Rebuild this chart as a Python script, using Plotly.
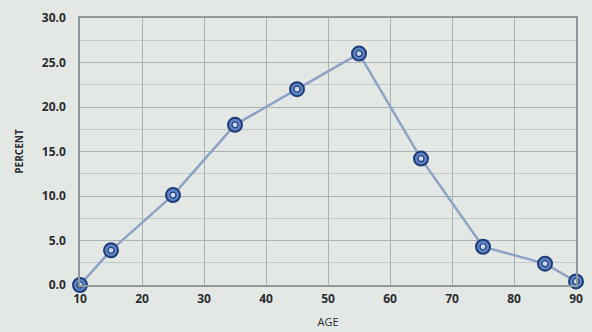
import plotly.graph_objects as go

# Age distribution (percent of cases by age)
ages = [10, 15, 25, 35, 45, 55, 65, 75, 85, 90]
percent = [0.0, 3.9, 10.1, 18.0, 22.0, 26.0, 14.2, 4.3, 2.4, 0.4]

x_ticks = [10, 20, 30, 40, 50, 60, 70, 80, 90]
y_ticks = [0, 5, 10, 15, 20, 25, 30]
y_tick_text = [f"{v:.1f}" for v in y_ticks]

bg = "#e4e8e5"
grid = "#a9b1b4"
line_col = "#8ea3c4"
ring_dark = "#1f3c78"
ring_fill = "#5f86c4"
center_fill = "#c9d8ee"

fig = go.Figure()

fig.add_trace(go.Scatter(
    x=ages, y=percent, mode="lines",
    line=dict(color=line_col, width=2.5),
    hoverinfo="skip", showlegend=False,
))
fig.add_trace(go.Scatter(
    x=ages, y=percent, mode="markers",
    marker=dict(symbol="circle", size=14, color=ring_fill,
                line=dict(color=ring_dark, width=2)),
    showlegend=False, cliponaxis=False,
))
fig.add_trace(go.Scatter(
    x=ages, y=percent, mode="markers",
    marker=dict(symbol="circle", size=6, color=center_fill,
                line=dict(color=ring_dark, width=1.2)),
    hoverinfo="skip", showlegend=False, cliponaxis=False,
))

tick_font = dict(family="Open Sans, Arial, sans-serif", size=12, color="#2a2c30")

fig.update_layout(
    width=592, height=332,
    margin=dict(l=80, r=16, t=18, b=47),
    paper_bgcolor=bg, plot_bgcolor=bg,
    font=tick_font,
    xaxis=dict(
        range=[10, 90], tickvals=x_ticks, ticktext=[str(v) for v in x_ticks],
        showgrid=True, gridcolor=grid, gridwidth=1,
        showline=True, linecolor="#8f989c", linewidth=1.5, mirror=True,
        zeroline=False, ticks="", ticklabelstandoff=2, automargin=False,
        title=dict(text="AGE", font=dict(size=11, color="#2a2c30"), standoff=12),
        tickfont=dict(size=12, weight="bold"),
    ),
    yaxis=dict(
        range=[0, 30], tickvals=y_ticks, ticktext=y_tick_text,
        showgrid=True, gridcolor=grid, gridwidth=1,
        minor=dict(dtick=2.5, showgrid=True, gridcolor="#c3cacc", gridwidth=1),
        showline=True, linecolor="#8f989c", linewidth=1.5, mirror=True,
        zeroline=False, ticks="", ticklabelstandoff=10, automargin=False,
        title=dict(text="PERCENT", font=dict(size=10, color="#2a2c30", weight="bold"), standoff=16),
        tickfont=dict(size=12, weight="bold"),
    ),
)

fig.write_html("out.html")
